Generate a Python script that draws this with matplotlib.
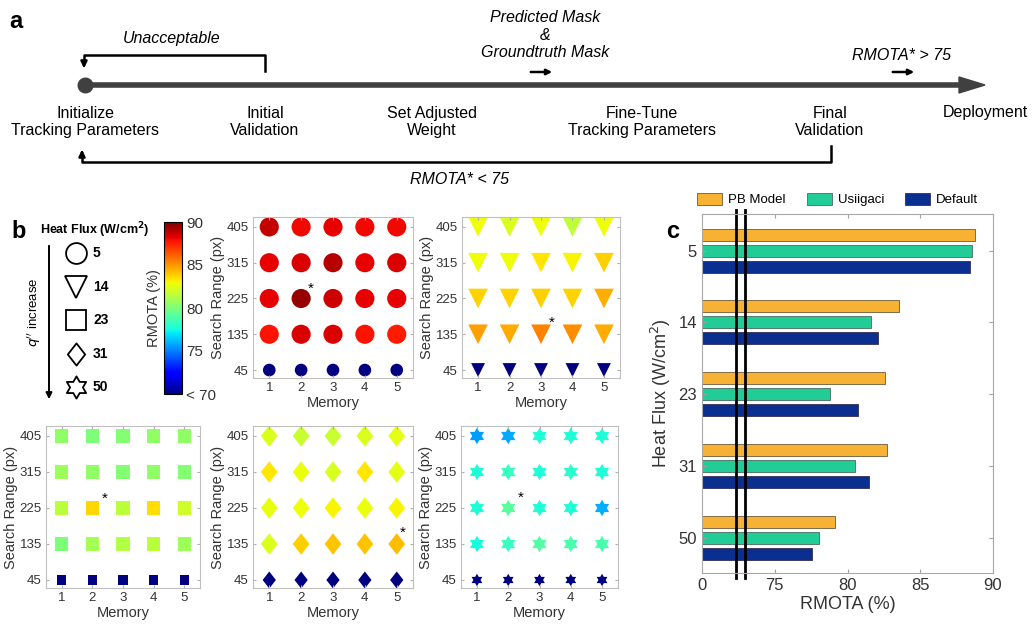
import numpy as np
import matplotlib
matplotlib.use('Agg')
import matplotlib.pyplot as plt
from matplotlib.path import Path
from matplotlib.patches import Polygon

plt.rcParams['font.family'] = ['Liberation Sans', 'DejaVu Sans']

# ---- data ----
memory = [1, 2, 3, 4, 5]
search_range = [405, 315, 225, 135, 45]
heat_flux = [5, 14, 23, 31, 50]

# RMOTA (%) grids, rows follow search_range (405 -> 45); 60 means "< 70"
rmota_q5 = [[88.8, 88.0, 88.2, 88.0, 88.0],
            [88.2, 88.4, 89.0, 88.2, 88.4],
            [88.2, 89.6, 88.6, 88.2, 88.2],
            [87.8, 88.4, 88.4, 87.8, 87.6],
            [60, 60, 60, 60, 60]]
rmota_q14 = [[82.8, 82.3, 82.8, 81.6, 82.8],
             [82.8, 82.8, 83.3, 83.0, 83.8],
             [83.7, 83.7, 83.8, 83.7, 84.5],
             [84.8, 84.6, 85.4, 85.2, 84.6],
             [60, 60, 60, 60, 60]]
rmota_q23 = [[80.5, 80.0, 80.2, 80.5, 80.5],
             [80.8, 80.5, 80.2, 80.5, 80.2],
             [81.5, 83.6, 81.5, 83.5, 82.0],
             [80.0, 81.0, 81.3, 81.5, 80.8],
             [60, 60, 60, 60, 60]]
rmota_q31 = [[82.3, 81.8, 81.8, 82.3, 82.5],
             [83.3, 82.7, 82.2, 83.3, 82.5],
             [82.6, 82.8, 83.0, 82.7, 83.0],
             [82.3, 83.8, 84.0, 84.0, 84.2],
             [60, 60, 60, 60, 60]]
rmota_q50 = [[75.6, 75.8, 77.8, 77.8, 77.8],
             [77.8, 78.3, 77.8, 78.0, 77.8],
             [77.8, 79.2, 77.8, 77.8, 75.9],
             [77.5, 78.3, 79.0, 78.8, 78.8],
             [60, 60, 60, 60, 60]]
best_cells = [(2, 225), (3, 135), (2, 225), (5, 135), (2, 225)]

pb_model = [88.74, 83.56, 82.57, 82.71, 79.17]
usiigaci = [88.55, 81.59, 78.80, 80.53, 78.07]
default = [88.39, 82.07, 80.69, 81.47, 77.54]

# ---- markers ----
ang = np.deg2rad(90 + 30 * np.arange(12))
rad = np.tile([1.0, 1 / np.sqrt(3)], 6)
hexv = np.column_stack([rad * np.cos(ang), rad * np.sin(ang)])
hexagram = Path(np.vstack([hexv, hexv[:1]]), closed=True)
diamond = Path([(0, 1), (0.78, 0), (0, -1), (-0.78, 0), (0, 1)], closed=True)

W, H = 1033, 624


def px_axes(l, t, r, b):
    return [l / W, 1 - b / H, (r - l) / W, (b - t) / H]


fig = plt.figure(figsize=(W / 100, H / 100), dpi=100)

# overlay for diagram / labels (pixel coordinates)
ov = fig.add_axes([0, 0, 1, 1])
ov.set_xlim(0, W)
ov.set_ylim(H, 0)
ov.axis('off')
ov.patch.set_visible(False)

# ---- panel a ----
dark = '#404040'
ov.plot([85, 962], [85, 85], color=dark, lw=4.0, solid_capstyle='butt')
ov.add_patch(Polygon([(959, 77), (985, 85), (959, 93)], closed=True, color=dark))
ov.plot([85], [85], 'o', color=dark, ms=10.5)

ov.plot([265, 265, 84, 84], [71, 55, 55, 62], color='k', lw=1.8)
ov.annotate('', xy=(84, 71), xytext=(84, 60),
            arrowprops=dict(arrowstyle='-|>', color='k', lw=1.8, mutation_scale=9))
ov.plot([831, 831, 82, 82], [146, 162, 162, 155], color='k', lw=1.8)
ov.annotate('', xy=(82, 147), xytext=(82, 157),
            arrowprops=dict(arrowstyle='-|>', color='k', lw=1.8, mutation_scale=9))
for x0 in (528, 890):
    ov.annotate('', xy=(x0 + 27, 72), xytext=(x0, 72),
                arrowprops=dict(arrowstyle='-|>', color='k', lw=1.8, mutation_scale=8))

steps = [(85, 'Initialize\nTracking Parameters'), (265, 'Initial\nValidation'),
         (432, 'Set Adjusted\nWeight'), (642, 'Fine-Tune\nTracking Parameters'),
         (830, 'Final\nValidation')]
for x0, s in steps:
    ov.text(x0, 122, s, ha='center', va='center', fontsize=11.5, linespacing=1.2)
ov.text(985, 112, 'Deployment', ha='center', va='center', fontsize=11.5)
ov.text(172, 39, 'Unacceptable', ha='center', va='center', fontsize=11.5, style='italic')
ov.text(545, 35, 'Predicted Mask\n&\nGroundtruth Mask', ha='center', va='center',
        fontsize=11.5, style='italic', linespacing=1.2)
ov.text(902, 55, 'RMOTA* > 75', ha='center', va='center', fontsize=11.5, style='italic')
ov.text(460, 180, 'RMOTA* < 75', ha='center', va='center', fontsize=11.5, style='italic')

ov.text(9, 22, 'a', fontsize=17, fontweight='bold', va='center')
ov.text(11, 231, 'b', fontsize=17, fontweight='bold', va='center')
ov.text(666, 231, 'c', fontsize=17, fontweight='bold', va='center')

# ---- panel b legend ----
ov.text(40, 230, 'Heat Flux (W/cm$^\\mathbf{2}$)', fontsize=9, fontweight='bold', va='center')
leg_y = [253, 287, 320, 354, 387]
leg_mk = [('o', 15), ('v', 16), ('s', 15), (diamond, 16), (hexagram, 16)]
for (mk, ms), yy, q in zip(leg_mk, leg_y, heat_flux):
    ov.plot([76], [yy], marker=mk, ms=ms, mfc='none', mec='k', mew=1.3, ls='none')
    ov.text(93, yy, str(q), fontsize=10, fontweight='bold', va='center')
ov.annotate('', xy=(49, 402), xytext=(49, 243),
            arrowprops=dict(arrowstyle='-|>', color='k', lw=1.4, mutation_scale=9))
ov.text(34, 312, "$q''$ increase", rotation=90, ha='center', va='center', fontsize=9.5)

# ---- panel b grids ----
grids = [rmota_q5, rmota_q14, rmota_q23, rmota_q31, rmota_q50]
grid_pos = [(253, 217, 413, 378), (462, 217, 620, 378),
            (46, 426, 200, 588), (253, 426, 413, 588), (461, 426, 618, 588)]
grid_mk = [('o', 190, 83), ('v', 200, 100), ('s', 95, 48),
           (diamond, 240, 150), (hexagram, 140, 80)]
star_off = [(0.3, 25), (0.35, 28), (0.4, 22), (0.2, 28), (0.4, 25)]

X, Y = np.meshgrid(memory, search_range)
for vals, pos, (mk, sbig, ssmall), best, off in zip(grids, grid_pos, grid_mk, best_cells, star_off):
    ax = fig.add_axes(px_axes(*pos))
    sizes = np.where(Y == min(search_range), ssmall, sbig)
    sc = ax.scatter(X.ravel(), Y.ravel(), c=np.array(vals).ravel(), s=sizes.ravel(),
                    marker=mk, cmap='jet', vmin=70, vmax=90, edgecolors='none')
    ax.text(best[0] + off[0], best[1] + off[1], '*', fontsize=11, ha='center', va='center')
    ax.set_xlim(0.49, 5.51)
    ax.set_ylim(25, 430)
    ax.set_xticks(memory)
    ax.set_yticks(search_range)
    ax.tick_params(direction='in', length=2.5, color='#b0b0b0', labelsize=9.5,
                   labelcolor='#333333', top=True, right=True, pad=3)
    for sp in ax.spines.values():
        sp.set_color('#c0c0c0')
    ax.set_xlabel('Memory', fontsize=10.5, color='#333333', labelpad=1)
    ax.set_ylabel('Search Range (px)', fontsize=10.5, color='#333333', labelpad=1)

# colorbar
cax = fig.add_axes(px_axes(164, 222, 182, 394))
cb = fig.colorbar(sc, cax=cax, ticks=[70, 75, 80, 85, 90])
cb.ax.set_yticklabels(['< 70', '75', '80', '85', '90'])
cb.ax.tick_params(length=0, labelsize=11, labelcolor='#333333', pad=3)
cb.outline.set_linewidth(0.8)
cb.ax.yaxis.set_label_position('left')
cb.set_label('RMOTA (%)', fontsize=10.5, color='#333333', labelpad=2)

# ---- panel c ----
axc = fig.add_axes(px_axes(702, 214, 993, 573))
yy = np.arange(len(heat_flux))
bh, off = 0.168, 0.223
axc.barh(yy - off, pb_model, height=bh, color='#F7B234', edgecolor='#6b5a3a', lw=0.6, label='PB Model')
axc.barh(yy, usiigaci, height=bh, color='#22CC96', edgecolor='#4a6a5a', lw=0.6, label='Usiigaci')
axc.barh(yy + off, default, height=bh, color='#0B2E91', edgecolor='#303050', lw=0.6, label='Default')
axc.set_xlim(70, 90)
axc.set_ylim(4.49, -0.51)
axc.set_xticks([70, 75, 80, 85, 90])
axc.set_xticklabels(['0', '75', '80', '85', '90'])
axc.set_yticks(yy)
axc.set_yticklabels([str(q) for q in heat_flux])
axc.tick_params(direction='in', length=3, color='#a0a0a0', labelsize=12,
                labelcolor='#333333', top=True, right=True)
for sp in axc.spines.values():
    sp.set_color('#a8a8a8')
axc.set_xlabel('RMOTA (%)', fontsize=13, color='#333333', labelpad=2)
axc.set_ylabel('Heat Flux (W/cm$^2$)', fontsize=13, color='#333333', labelpad=4)
for xb in (0.117, 0.149):
    axc.plot([xb, xb], [-0.015, 1.012], color='k', lw=2.0, transform=axc.transAxes, clip_on=False)
axc.legend(loc='center left', bbox_to_anchor=(-0.035, 1.04), ncol=3, frameon=False,
           handlelength=1.9, handleheight=1.0, handletextpad=0.45, columnspacing=1.6,
           fontsize=9.5, borderaxespad=0)

fig.savefig('out.png', dpi=100)
